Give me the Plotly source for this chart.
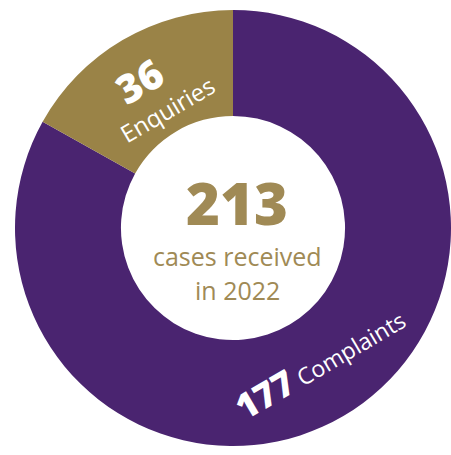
import math
import plotly.graph_objects as go

# Case counts for the year
categories = ["Complaints", "Enquiries"]
counts = [177, 36]
slice_colors = ["#4A2470", "#9A8347"]
year = "2022"
caption_lines = ["cases received", "in " + year]

TEXT_GOLD = "#A08A55"
FONT = "Open Sans"

# Canvas and ring geometry (pixels)
W, H = 451, 455
CX, CY, R = 233, 228, 218
HOLE = 0.514

total = sum(counts)


def to_paper(px, py):
    return px / W, 1 - py / H


def slice_mid(i):
    """Mid angle (deg, clockwise from 12 o'clock) of slice i."""
    start = sum(counts[:i]) / total * 360
    return start + counts[i] / total * 180


def tangential_rotation(theta):
    rot = theta if (theta % 360) < 90 or (theta % 360) > 270 else theta - 180
    return ((rot + 180) % 360) - 180


def label_anchor(i, r, du=0.0, dv=0.0):
    """Point at radius r on slice i's mid angle, shifted du along the text
    baseline and dv perpendicular to it (downwards in text frame)."""
    th = math.radians(slice_mid(i))
    rot = math.radians(tangential_rotation(slice_mid(i)))
    px = CX + r * math.sin(th) + du * math.cos(rot) - dv * math.sin(rot)
    py = CY - r * math.cos(th) + du * math.sin(rot) + dv * math.cos(rot)
    return to_paper(px, py)


fig = go.Figure(
    go.Pie(
        labels=categories,
        values=counts,
        marker=dict(colors=slice_colors, line=dict(width=0)),
        hole=HOLE,
        sort=False,
        direction="clockwise",
        rotation=0,
        textinfo="none",
        showlegend=False,
        domain=dict(
            x=[(CX - R) / W, min(1.0, (CX + R) / W)],
            y=[1 - (CY + R) / H, 1 - (CY - R) / H],
        ),
    )
)

annotations = []

# Complaints label along the ring
ci = categories.index("Complaints")
x, y = label_anchor(ci, 159, du=7)
annotations.append(dict(
    x=x, y=y, xref="paper", yref="paper", showarrow=False,
    xanchor="center", yanchor="middle",
    textangle=tangential_rotation(slice_mid(ci)),
    text=f"<span style='font-size:35px;font-weight:800'>{counts[ci]}</span> {categories[ci]}",
    font=dict(family=FONT, size=23, color="white"),
))

# Enquiries label: number above, word below
ei = categories.index("Enquiries")
x, y = label_anchor(ei, 156, du=-6, dv=-18)
annotations.append(dict(
    x=x, y=y, xref="paper", yref="paper", showarrow=False,
    xanchor="center", yanchor="middle",
    textangle=tangential_rotation(slice_mid(ei)),
    text=str(counts[ei]),
    font=dict(family=FONT, size=40, color="white", weight=800),
))
x, y = label_anchor(ei, 156, du=3, dv=20)
annotations.append(dict(
    x=x, y=y, xref="paper", yref="paper", showarrow=False,
    xanchor="center", yanchor="middle",
    textangle=tangential_rotation(slice_mid(ei)),
    text=categories[ei],
    font=dict(family=FONT, size=24, color="white"),
))

# Centre total and caption
TX = 237
x, y = to_paper(TX, 202)
annotations.append(dict(
    x=x, y=y, xref="paper", yref="paper", showarrow=False,
    xanchor="center", yanchor="middle",
    text=str(total),
    font=dict(family=FONT, size=58, color=TEXT_GOLD, weight=800),
))
for line, ly in zip(caption_lines, [256, 290]):
    x, y = to_paper(TX, ly)
    annotations.append(dict(
        x=x, y=y, xref="paper", yref="paper", showarrow=False,
        xanchor="center", yanchor="middle",
        text=line,
        font=dict(family=FONT, size=25, color=TEXT_GOLD),
    ))

fig.update_layout(
    width=W, height=H,
    margin=dict(l=0, r=0, t=0, b=0),
    paper_bgcolor="white",
    plot_bgcolor="white",
    annotations=annotations,
)

fig.write_html("out.html")
